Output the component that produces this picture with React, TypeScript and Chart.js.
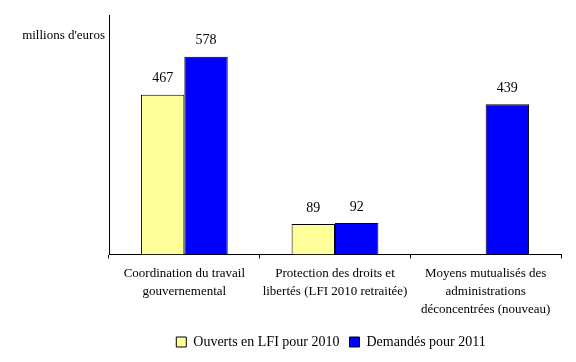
import React, { useEffect, useRef } from "react";
import { Chart, registerables } from "chart.js";

Chart.register(...registerables);

const categories: string[][] = [
  ["Coordination du travail", "gouvernemental"],
  ["Protection des droits et", "libertés (LFI 2010 retraitée)"],
  ["Moyens mutualisés des", "administrations", "déconcentrées (nouveau)"],
];
const seriesNames = ["Ouverts en LFI pour 2010", "Demandés pour 2011"];
const ouverts2010: (number | null)[] = [467, 89, null];
const demandes2011: (number | null)[] = [578, 92, 439];
const unitLabel = "millions d'euros";

const FONT = "'Liberation Serif', 'Times New Roman', serif";

const labelsPlugin = {
  id: "valueLabels",
  afterDatasetsDraw(chart: any) {
    const ctx = chart.ctx;
    ctx.save();
    ctx.font = `14px ${FONT}`;
    ctx.fillStyle = "#000";
    ctx.textAlign = "center";
    ctx.textBaseline = "middle";
    chart.data.datasets.forEach((ds: any, di: number) => {
      const meta = chart.getDatasetMeta(di);
      meta.data.forEach((el: any, i: number) => {
        const v = ds.data[i];
        if (v === null || v === undefined) return;
        ctx.fillText(String(v), el.x, el.y - 16);
      });
    });
    ctx.font = `13px ${FONT}`;
    ctx.textAlign = "right";
    ctx.fillText(unitLabel, chart.chartArea.left - 4, 36);
    ctx.restore();
  },
};

export default function App() {
  const ref = useRef<HTMLCanvasElement | null>(null);
  useEffect(() => {
    if (!ref.current) return;
    const chart = new Chart(ref.current, {
      type: "bar",
      data: {
        labels: categories,
        datasets: [
          {
            label: seriesNames[0],
            data: ouverts2010,
            backgroundColor: "#FFFF99",
            borderColor: "#000",
            borderWidth: 1,
            categoryPercentage: 0.576,
            barPercentage: 1,
          },
          {
            label: seriesNames[1],
            data: demandes2011,
            backgroundColor: "#0000FF",
            borderColor: "#000",
            borderWidth: 1,
            categoryPercentage: 0.576,
            barPercentage: 1,
          },
        ],
      },
      options: {
        animation: false,
        responsive: false,
        layout: { padding: { left: 101, top: 15, right: 15, bottom: 3 } },
        scales: {
          x: {
            grid: {
              display: true,
              drawOnChartArea: false,
              drawTicks: true,
              tickLength: 4,
              color: "#000",
              offset: true,
            },
            border: { display: true, color: "#000", width: 1 },
            ticks: {
              color: "#000",
              font: { family: FONT, size: 13, lineHeight: 1.4 },
              padding: 6,
              maxRotation: 0,
              autoSkip: false,
            },
          },
          y: {
            min: 0,
            max: 700,
            grid: { display: false },
            border: { display: true, color: "#000", width: 1 },
            ticks: { display: false },
          },
        },
        plugins: {
          legend: {
            position: "bottom",
            labels: {
              color: "#000",
              font: { family: FONT, size: 14 },
              boxWidth: 10,
              boxHeight: 10,
              padding: 10,
            },
          },
          tooltip: { enabled: false },
        },
      },
      plugins: [labelsPlugin],
    });
    return () => chart.destroy();
  }, []);
  return (
    <div style={{ position: "fixed", left: 0, top: 0, width: 576, height: 362, background: "#fff" }}>
      <canvas ref={ref} width={576} height={362} style={{ width: 576, height: 362 }} />
    </div>
  );
}
